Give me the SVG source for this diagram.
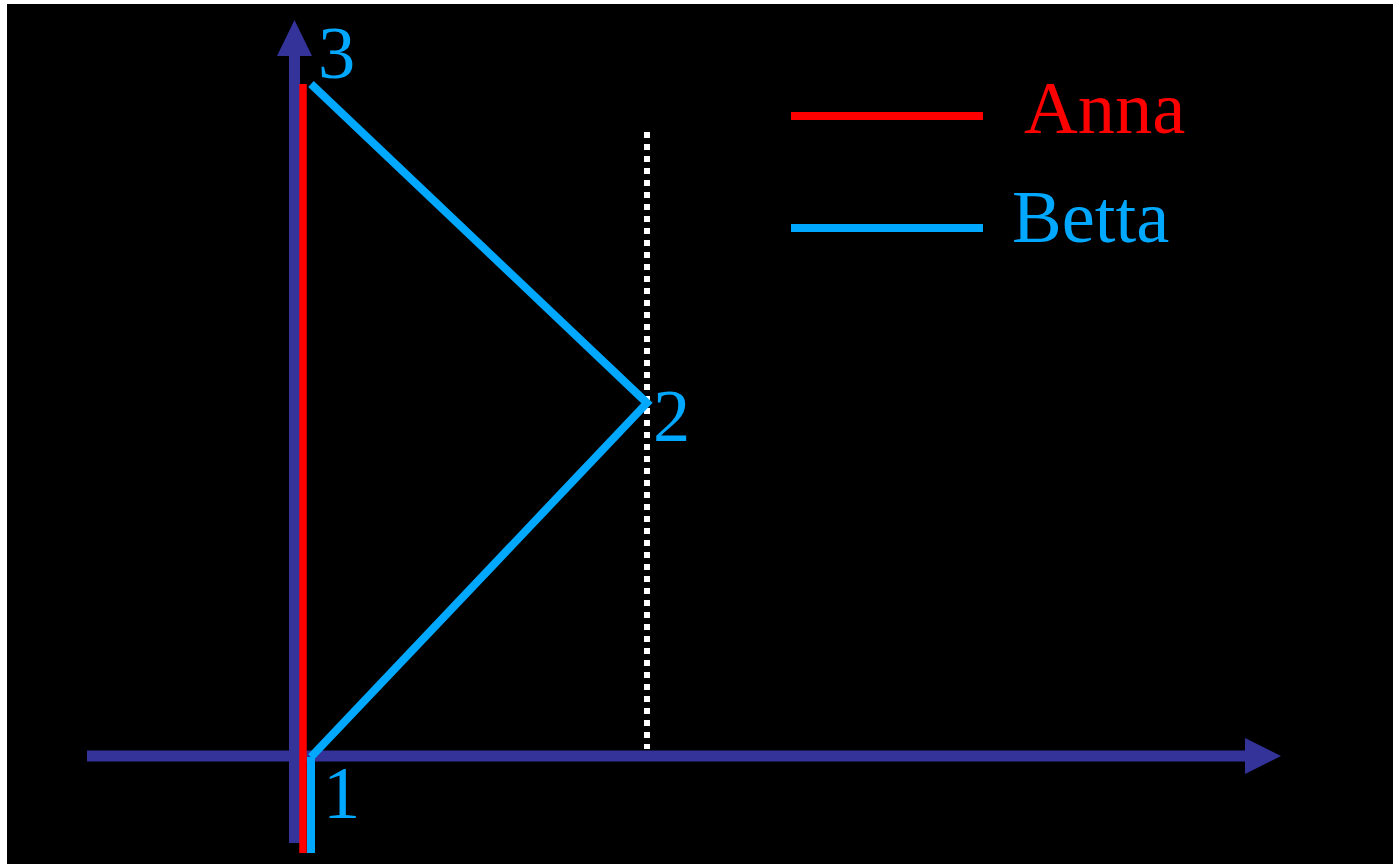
<svg xmlns="http://www.w3.org/2000/svg" width="1393" height="864" viewBox="0 0 1393 864">
<style>
.lbl{font-family:"Liberation Serif",serif;font-size:74.5px}
.axis{stroke:#333399;stroke-width:11;fill:none}
.betta{stroke:#00a8ff;stroke-width:8;fill:none}
.anna{stroke:#ff0000;stroke-width:8;fill:none}
</style>
<rect x="0" y="0" width="1393" height="864" fill="#ffffff"/>
<rect x="7" y="4" width="1386" height="860" fill="#000000"/>
<g id="connectors">
<line class="axis" x1="87" y1="756" x2="1248" y2="756"/>
<polygon points="1245,738 1281,756 1245,774" fill="#333399"/>
<line class="axis" x1="294.5" y1="843" x2="294.5" y2="54"/>
<polygon points="277,56 294.5,20 312,56" fill="#333399"/>
<line x1="647" y1="132" x2="647" y2="749" stroke="#ffffff" stroke-width="6" stroke-dasharray="6 6"/>
<line x1="303" y1="84" x2="303" y2="853" stroke="#ff0000" stroke-width="7.5"/>
<line x1="311" y1="757" x2="311" y2="853" stroke="#00a8ff" stroke-width="8"/>
<polyline class="betta" points="311,84 647,403 311,757"/>
</g>
<g id="point-3"><text class="lbl" x="318" y="78" fill="#00a8ff">3</text></g>
<g id="point-2"><text class="lbl" x="653" y="441" fill="#00a8ff">2</text></g>
<g id="point-1"><text class="lbl" x="323" y="818" fill="#00a8ff">1</text></g>
<g id="legend-anna">
<line class="anna" x1="791" y1="116" x2="983" y2="116"/>
<text class="lbl" x="1024" y="133" fill="#ff0000">Anna</text>
</g>
<g id="legend-betta">
<line class="betta" x1="791" y1="228" x2="983" y2="228"/>
<text class="lbl" x="1012" y="242" fill="#00a8ff">Betta</text>
</g>
</svg>
